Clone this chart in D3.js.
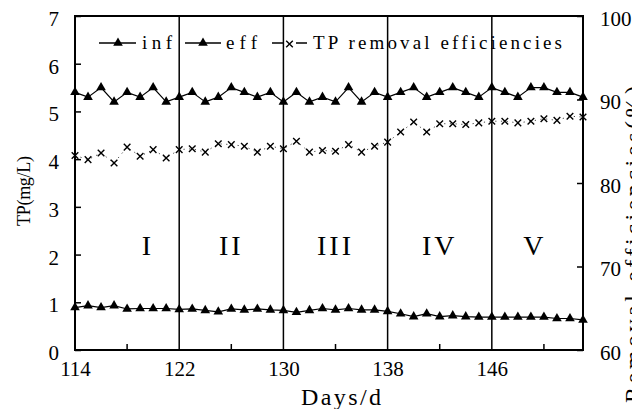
<!DOCTYPE html>
<html><head><meta charset="utf-8">
<script src="https://cdn.jsdelivr.net/npm/d3@7/dist/d3.min.js"></script>
<style>
html,body{margin:0;padding:0;background:#fff;overflow:hidden;}
svg{display:block;}
</style></head>
<body>
<svg id="chart" width="632" height="409"></svg>
<script>
const days = [114,115,116,117,118,119,120,121,122,123,124,125,126,127,128,129,130,131,132,133,
              134,135,136,137,138,139,140,141,142,143,144,145,146,147,148,149,150,151,152,153];
const inf = [5.4,5.3,5.5,5.2,5.4,5.3,5.5,5.2,5.3,5.4, 5.2,5.3,5.5,5.4,5.3,5.4,5.2,5.4,5.2,5.3,
             5.2,5.5,5.2,5.4,5.3,5.4,5.5,5.3,5.4,5.5, 5.4,5.3,5.5,5.4,5.3,5.5,5.5,5.4,5.4,5.3];
const eff = [0.89,0.93,0.89,0.93,0.86,0.87,0.87,0.87,0.85,0.86, 0.83,0.80,0.86,0.84,0.86,0.84,0.83,0.79,0.83,0.87,
             0.84,0.87,0.84,0.84,0.81,0.76,0.70,0.76,0.70,0.72, 0.70,0.69,0.69,0.69,0.69,0.69,0.69,0.66,0.66,0.63];
const removal = [83.3,82.8,83.6,82.4,84.3,83.2,84.0,83.0,84.0,84.1, 83.7,84.7,84.6,84.4,83.7,84.4,84.1,85.0,83.7,83.9,
                 83.8,84.6,83.7,84.4,84.9,86.1,87.3,86.1,87.1,87.1, 87.0,87.2,87.4,87.4,87.2,87.4,87.7,87.5,88.0,87.9];
const xTicks = [114,122,130,138,146];
const xMinor = [118,126,134,142,150];
const stageBounds = [122,130,138,146];
const stageLabels = ["I","II","III","IV","V"];
const stageDay = [119.6,126,134,142,149.3];
const yLeftTicks = [0,1,2,3,4,5,6,7];
const yRightTicks = [60,70,80,90,100];
const seriesNames = ["inf","eff","TP removal efficiencies"];

const svg = d3.select("#chart");
const L = 75, R = 583, T = 16, B = 350;
const x = d3.scaleLinear().domain([114,153]).range([L,R]);
const yL = d3.scaleLinear().domain([0,7]).range([B,T]);
const yR = d3.scaleLinear().domain([60,100]).range([B,T]);
const serif = "'Liberation Serif','Times New Roman',serif";

// stage separators
svg.append("g").selectAll("line").data(stageBounds).join("line")
  .attr("x1", d=>x(d)).attr("x2", d=>x(d)).attr("y1", T).attr("y2", B)
  .attr("stroke","#000").attr("stroke-width",1.5);

// frame
svg.append("rect").attr("x",L).attr("y",T).attr("width",R-L).attr("height",B-T)
  .attr("fill","none").attr("stroke","#000").attr("stroke-width",2);

// axes
const axL = d3.axisLeft(yL).tickValues(yLeftTicks).tickSize(-6).tickPadding(16).tickFormat(d3.format("d"));
const gL = svg.append("g").attr("transform",`translate(${L},0)`).call(axL);
const axR = d3.axisRight(yR).tickValues(yRightTicks).tickSize(-6).tickPadding(17).tickFormat(d3.format("d"));
const gR = svg.append("g").attr("transform",`translate(${R},0)`).call(axR);
const axB = d3.axisBottom(x).tickValues(xTicks).tickSize(0).tickPadding(24).tickFormat(d3.format("d"));
const gB = svg.append("g").attr("transform",`translate(0,${B})`).call(axB);
svg.append("g").selectAll("line").data(xMinor).join("line")
  .attr("x1",d=>x(d)).attr("x2",d=>x(d)).attr("y1",B).attr("y2",B-6)
  .attr("stroke","#000").attr("stroke-width",1.5);

[gL,gR,gB].forEach(g=>{
  g.select(".domain").remove();
  g.selectAll(".tick line").attr("stroke","#000").attr("stroke-width",1.5);
  g.selectAll(".tick text").attr("font-family",serif).attr("font-size",21).attr("fill","#000");
});
gL.selectAll(".tick text").attr("dy","0.45em");
gR.selectAll(".tick text").attr("dy","0.45em");
gB.selectAll(".tick text").attr("dy","0.1em");

// axis titles
svg.append("text").attr("transform","translate(30,191) rotate(-90)")
  .attr("text-anchor","middle").attr("font-family",serif).attr("font-size",18)
  .attr("textLength",70).attr("lengthAdjust","spacing").text("TP(mg/L)");
svg.append("text").attr("x",341).attr("y",405).attr("text-anchor","middle")
  .attr("font-family",serif).attr("font-size",24)
  .attr("textLength",80).attr("lengthAdjust","spacing").text("Days/d");
svg.append("text").attr("transform","translate(641,86) rotate(-90)")
  .attr("text-anchor","end").attr("font-family",serif).attr("font-size",24)
  .attr("textLength",317).attr("lengthAdjust","spacing").text("Removal efficiencies(%)");

// stage labels
svg.append("g").selectAll("text").data(stageLabels).join("text")
  .attr("x",(d,i)=>x(stageDay[i])).attr("y",yL(2)).attr("text-anchor","middle")
  .attr("font-family",serif).attr("font-size",28).attr("letter-spacing",3)
  .text(d=>d);

const tri = d3.symbol().type(d3.symbolTriangle).size(40);
const cross = "M-3.3,-3.3L3.3,3.3M-3.3,3.3L3.3,-3.3";

// removal efficiency series (dotted)
const lineR = d3.line().x((d,i)=>x(days[i])).y(d=>yR(d));
svg.append("path").attr("d",lineR(removal)).attr("fill","none")
  .attr("stroke","#444").attr("stroke-width",1).attr("stroke-dasharray","1.2,4.5");
svg.append("g").selectAll("path").data(removal).join("path")
  .attr("transform",(d,i)=>`translate(${x(days[i])},${yR(d)})`)
  .attr("d",cross).attr("stroke","#000").attr("stroke-width",1.4).attr("fill","none");

// inf and eff
const lineL = d3.line().x((d,i)=>x(days[i])).y(d=>yL(d));
[inf,eff].forEach(s=>{
  svg.append("path").attr("d",lineL(s)).attr("fill","none").attr("stroke","#000").attr("stroke-width",1.2);
  svg.append("g").selectAll("path").data(s).join("path")
    .attr("transform",(d,i)=>`translate(${x(days[i])},${yL(d)})`)
    .attr("d",tri).attr("fill","#000");
});

// legend
const lg = svg.append("g");
const ly = 43;
const lw = [30,31];
[[99,136,118,142],[185,221,203,226]].forEach((p,i)=>{
  lg.append("line").attr("x1",p[0]).attr("x2",p[1]).attr("y1",ly).attr("y2",ly).attr("stroke","#000").attr("stroke-width",1.5);
  lg.append("path").attr("transform",`translate(${p[2]},${ly})`).attr("d",tri).attr("fill","#000");
  lg.append("text").attr("x",p[3]).attr("y",49).attr("font-family",serif).attr("font-size",19)
    .attr("textLength",lw[i]).attr("lengthAdjust","spacing").text(seriesNames[i]);
});
lg.append("line").attr("x1",272).attr("x2",283).attr("y1",ly).attr("y2",ly).attr("stroke","#000").attr("stroke-width",1.5);
lg.append("line").attr("x1",296).attr("x2",307).attr("y1",ly).attr("y2",ly).attr("stroke","#000").attr("stroke-width",1.5);
lg.append("path").attr("transform",`translate(289.5,${ly+1})`).attr("d",cross).attr("stroke","#000").attr("stroke-width",1.4);
lg.append("text").attr("x",313).attr("y",49).attr("font-family",serif).attr("font-size",19)
  .attr("textLength",249).attr("lengthAdjust","spacing").text(seriesNames[2]);
</script>
</body></html>
